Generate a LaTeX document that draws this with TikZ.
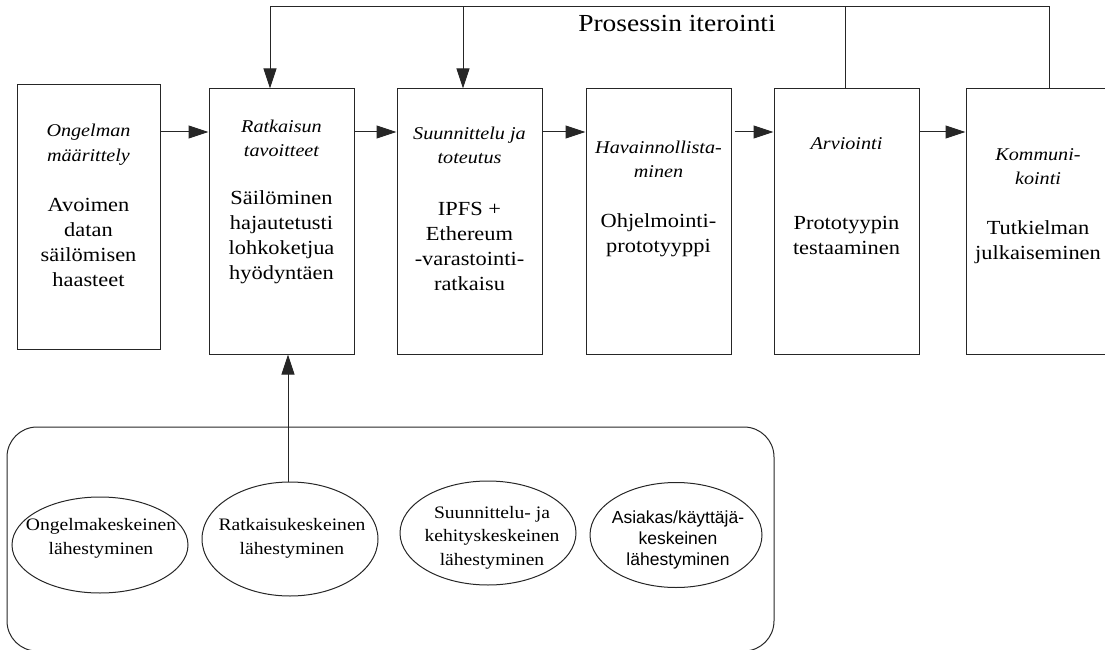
\documentclass[tikz,border=0pt]{standalone}
\usepackage{fontspec}
\setmainfont[FakeStretch=1.12]{Liberation Serif}
\newfontfamily\esans{Liberation Sans}
\usetikzlibrary{arrows.meta,shapes.geometric}
\begin{document}
\begin{tikzpicture}[x=1pt,y=-1pt,
  line/.style={draw=black!85, line width=1pt},
  arr/.style={line, -{Triangle[length=20pt,width=13pt]}},
  box/.style={line, rectangle, inner sep=0pt},
  ttl/.style={font=\itshape\fontsize{18}{24.5}\selectfont, align=center, inner sep=0pt},
  body/.style={font=\fontsize{20}{25}\selectfont, align=center, inner sep=0pt},
  ell/.style={line, ellipse, inner sep=0pt},
  etxt/.style={font=\fontsize{17.5}{23.5}\selectfont, align=center, inner sep=0pt},
]
\useasboundingbox (0,0) rectangle (1105,650);

% main boxes
\node[box, minimum width=143pt, minimum height=264pt] (b1) at (88.5,217) {};
\node[box, minimum width=145pt, minimum height=265pt] (b2) at (281.5,221.5) {};
\node[box, minimum width=145pt, minimum height=265pt] (b3) at (469.5,221.5) {};
\node[box, minimum width=145pt, minimum height=265pt] (b4) at (658.5,221.5) {};
\node[box, minimum width=145pt, minimum height=265pt] (b5) at (846.5,221.5) {};
\node[box, minimum width=145pt, minimum height=265pt] (b6) at (1038.5,221.5) {};

% titles
\node[ttl] (b1t) at (88.5,144.5) {Ongelman\\määrittely};
\node[ttl] (b2t) at (281.5,138.5) {Ratkaisun\\tavoitteet};
\node[ttl] (b3t) at (469.5,145.5) {Suunnittelu ja\\toteutus};
\node[ttl] (b4t) at (658.5,159.5) {Havainnollista-\\minen};
\node[ttl] (b5t) at (846.5,144) {Arviointi};
\node[ttl] (b6t) at (1038,166.5) {Kommuni-\\kointi};

% bodies
\node[body] (b1b) at (88.5,242.5) {Avoimen\\datan\\säilömisen\\haasteet};
\node[body] (b2b) at (281.5,237) {Säilöminen\\hajautetusti\\lohkoketjua\\hyödyntäen};
\node[body] (b3b) at (469.5,246.5) {IPFS +\\Ethereum\\-varastointi-\\ratkaisu};
\node[body] (b4b) at (658.5,235) {Ohjelmointi-\\prototyyppi};
\node[body] (b5b) at (846.5,235) {Prototyypin\\testaaminen};
\node[body] (b6b) at (1038,242.5) {Tutkielman\\julkaiseminen};

% horizontal arrows
\coordinate (ay) at (0,132);
\draw[arr] (b1.east |- ay) -- (b2.west |- ay);
\draw[arr] (b2.east |- ay) -- (b3.west |- ay);
\draw[arr] (b3.east |- ay) -- (b4.west |- ay);
\draw[arr, shorten <=3pt] (b4.east |- ay) -- (b5.west |- ay);
\draw[arr] (b5.east |- ay) -- (b6.west |- ay);

% iteration loop
\coordinate (t1) at (270,7);
\coordinate (t2) at (463,7);
\coordinate (t5) at (845,7);
\coordinate (t6) at (1049,7);
\draw[arr] (t6 |- b6.north) -- (t6) -- (t1) -- (t1 |- b2.north);
\draw[arr] (t2) -- (t2 |- b3.north);
\draw[line] (t5) -- (t5 |- b5.north);
\node[font=\fontsize{24.5}{28}\selectfont, inner sep=0pt] (lbl) at (677,24) {Prosessin iterointi};

% approaches group
\node[line, rounded corners=30pt, minimum width=767pt, minimum height=224pt, inner sep=0pt] (grp) at (390.5,539) {};
\node[ell, minimum width=176pt, minimum height=96pt] (e1) at (100,545) {};
\node[ell, minimum width=176pt, minimum height=114pt] (e2) at (290,539) {};
\node[ell, minimum width=176pt, minimum height=104pt] (e3) at (488,533) {};
\node[ell, minimum width=172pt, minimum height=105pt] (e4) at (676,535) {};
\node[etxt] (e1t) at (101,538.5) {Ongelmakeskeinen\\lähestyminen};
\node[etxt] (e2t) at (292,538.5) {Ratkaisukeskeinen\\lähestyminen};
\node[etxt] (e3t) at (492,537.5) {Suunnittelu- ja\\kehityskeskeinen\\lähestyminen};
\node[etxt, font=\esans\fontsize{17.5}{21}\selectfont] (e4t) at (678,540) {Asiakas/käyttäjä-\\keskeinen\\lähestyminen};

\coordinate (vx) at (288,0);
\draw[arr] (vx |- e2.north) -- (vx |- b2.south);
\end{tikzpicture}
\end{document}
